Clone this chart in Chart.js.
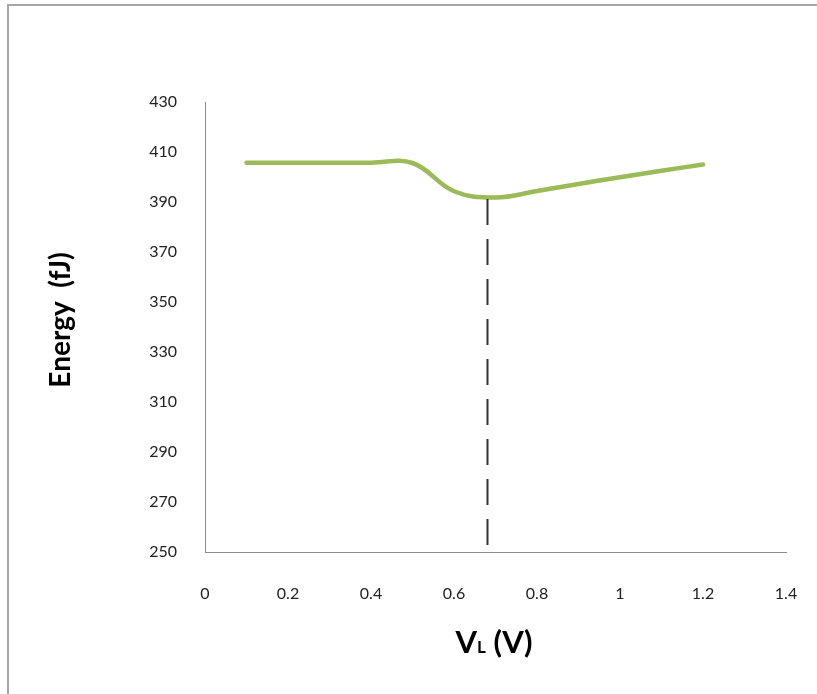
<!DOCTYPE html>
<html>
<head>
<meta charset="utf-8">
<script src="https://cdn.jsdelivr.net/npm/chart.js@4"></script>
<style>
  html, body { margin: 0; padding: 0; background: #fff; }
  #wrap { position: relative; width: 817px; height: 694px; }
  canvas { display: block; }
</style>
</head>
<body>
<div id="wrap"><canvas id="c" width="817" height="694"></canvas></div>
<script>
// ---- data ----
const vL = [0.1, 0.2, 0.3, 0.4, 0.5, 0.6, 0.7, 0.8, 0.9, 1.0, 1.1, 1.2];
const energy = [405.7, 405.7, 405.7, 405.7, 405.6, 394.3, 391.8, 394.4, 397.2, 399.9, 402.5, 405.0];
const markerX = [0.68];          // dashed vertical line position (V)
const markerY = [392.0, 250];    // from curve down to axis
const xTicks = [0, 0.2, 0.4, 0.6, 0.8, 1, 1.2, 1.4];
const yTicks = [250, 270, 290, 310, 330, 350, 370, 390, 410, 430];
const yTitle = 'Energy  (fJ)';
const xTitleMain = 'V';
const xTitleSub = 'L';
const xTitleRest = ' (V)';

const FONT = "Lato, 'Open Sans', sans-serif";

const framePlugin = {
  id: 'frame',
  beforeDraw(chart) {
    const ctx = chart.ctx;
    ctx.save();
    ctx.fillStyle = '#fff';
    ctx.fillRect(0, 0, chart.width, chart.height);
    ctx.strokeStyle = '#a6a6a6';
    ctx.lineWidth = 2;
    ctx.beginPath();
    ctx.moveTo(8, chart.height + 2);
    ctx.lineTo(8, 5);
    ctx.lineTo(chart.width + 2, 5);
    ctx.stroke();
    ctx.restore();
  }
};

const extrasPlugin = {
  id: 'extras',
  afterDatasetsDraw(chart) {
    const ctx = chart.ctx;
    const xs = chart.scales.x, ys = chart.scales.y;
    ctx.save();
    const px = Math.round(xs.getPixelForValue(markerX[0])) + 0.5;
    ctx.strokeStyle = '#333';
    ctx.lineWidth = 2;
    ctx.setLineDash([26, 14]);
    ctx.beginPath();
    ctx.moveTo(px, ys.getPixelForValue(markerY[0]) + 2);
    ctx.lineTo(px, ys.getPixelForValue(markerY[1]) + 5);
    ctx.stroke();
    ctx.restore();
  },
  afterDraw(chart) {
    const ctx = chart.ctx;
    ctx.save();
    ctx.fillStyle = '#000';
    ctx.translate(61, 320);
    ctx.rotate(-Math.PI / 2);
    ctx.font = "bold 28px " + FONT;
    ctx.textAlign = 'center';
    ctx.textBaseline = 'middle';
    ctx.fillText(yTitle, 0, 0);
    ctx.restore();
    ctx.save();
    ctx.fillStyle = '#000';
    ctx.textBaseline = 'alphabetic';
    const big = "bold 31px " + FONT, small = "bold 17px " + FONT;
    ctx.font = big; const w1 = ctx.measureText(xTitleMain).width;
    const w3 = ctx.measureText(xTitleRest).width;
    ctx.font = small; const w2 = ctx.measureText(xTitleSub).width;
    const total = w1 + w2 + w3;
    let x = 494 - total / 2;
    const base = 653;
    ctx.textAlign = 'left';
    ctx.font = big; ctx.fillText(xTitleMain, x, base); x += w1;
    ctx.font = small; ctx.fillText(xTitleSub, x, base); x += w2;
    ctx.font = big; ctx.fillText(xTitleRest, x, base);
    ctx.restore();
  }
};

new Chart(document.getElementById('c'), {
  type: 'line',
  data: {
    datasets: [{
      data: vL.map((v, i) => ({ x: v, y: energy[i] })),
      borderColor: '#9bbb59',
      borderWidth: 4.5,
      pointRadius: 0,
      tension: 0.4,
      fill: false,
      borderCapStyle: 'round',
      borderJoinStyle: 'round'
    }]
  },
  options: {
    responsive: false,
    animation: false,
    devicePixelRatio: 1,
    layout: { padding: { left: 0, top: 102, right: 31, bottom: 0 } },
    plugins: { legend: { display: false }, tooltip: { enabled: false } },
    scales: {
      x: {
        type: 'linear',
        min: 0, max: 1.4,
        afterBuildTicks(s) { s.ticks = xTicks.map(v => ({ value: v })); },
        grid: { display: false, drawTicks: false },
        border: { display: true, color: '#8c8c8c', width: 1 },
        ticks: {
          padding: 32,
          color: '#222',
          font: { family: FONT, size: 16 },
          callback: v => String(v)
        },
        afterFit(s) { s.height = 694 - 552; s.paddingLeft = 0; s.paddingRight = 0; }
      },
      y: {
        min: 250, max: 430,
        afterBuildTicks(s) { s.ticks = yTicks.map(v => ({ value: v })); },
        grid: { display: false, drawTicks: false },
        border: { display: true, color: '#8c8c8c', width: 1 },
        ticks: {
          padding: 28,
          color: '#222',
          font: { family: FONT, size: 16 }
        },
        afterFit(s) { s.width = 205; s.paddingTop = 0; s.paddingBottom = 0; }
      }
    }
  },
  plugins: [framePlugin, extrasPlugin]
});
</script>
</body>
</html>
